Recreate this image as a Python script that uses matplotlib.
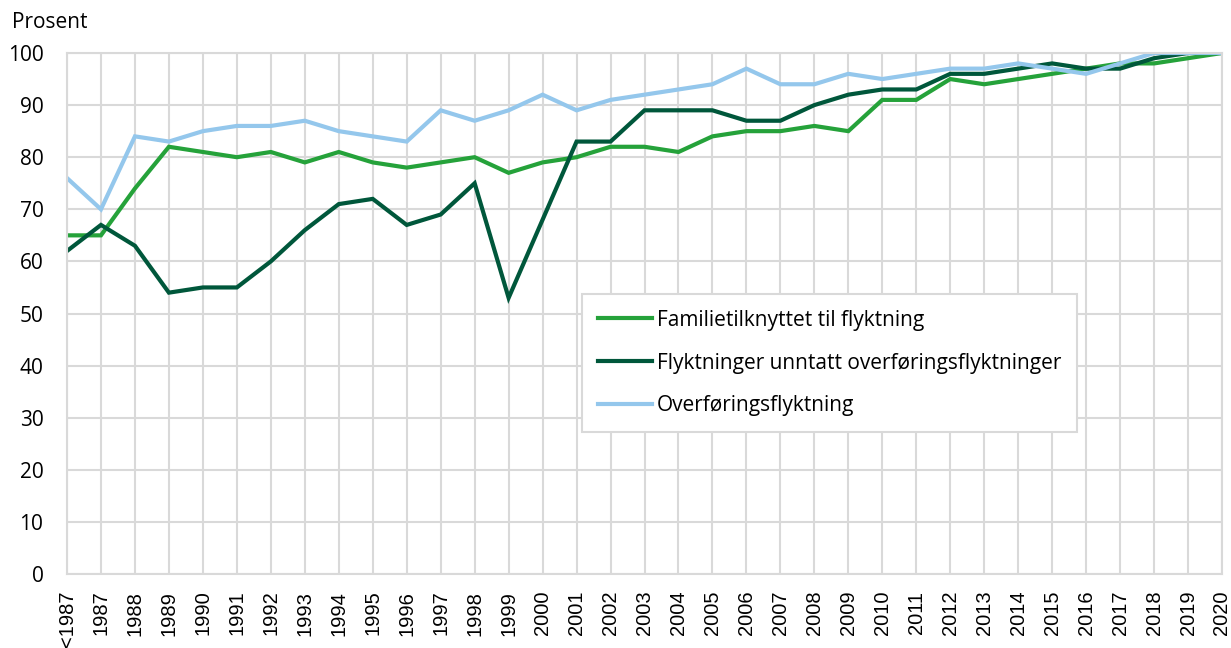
import matplotlib.pyplot as plt

# dataset
years = ['<1987'] + [str(y) for y in range(1987, 2021)]
familie = [65, 65, 74, 82, 81, 80, 81, 79, 81, 79, 78, 79, 80, 77, 79, 80, 82, 82,
           81, 84, 85, 85, 86, 85, 91, 91, 95, 94, 95, 96, 97, 98, 98, 99, 100]
flyktninger = [62, 67, 63, 54, 55, 55, 60, 66, 71, 72, 67, 69, 75, 53, 68, 83, 83, 89,
               89, 89, 87, 87, 90, 92, 93, 93, 96, 96, 97, 98, 97, 97, 99, 100, 100]
overforing = [76, 70, 84, 83, 85, 86, 86, 87, 85, 84, 83, 89, 87, 89, 92, 89, 91, 92,
              93, 94, 97, 94, 94, 96, 95, 96, 97, 97, 98, 97, 96, 98, 100, 100, 100]
pos = range(len(years))

fig = plt.figure(figsize=(12.31, 6.48), dpi=100)
ax = fig.add_axes([67 / 1231, 1 - 574 / 648, 1155 / 1231, 521 / 648])

ax.plot(pos, familie, color='#25a23a', lw=3, label='Familietilknyttet til flyktning',
        solid_joinstyle='miter')
ax.plot(pos, flyktninger, color='#00573b', lw=3,
        label='Flyktninger unntatt overføringsflyktninger', solid_joinstyle='miter')
ax.plot(pos, overforing, color='#94c7ec', lw=3, label='Overføringsflyktning',
        solid_joinstyle='miter')

ax.set_xlim(0, len(years) - 1)
ax.set_ylim(0, 100)
ax.set_xticks(list(pos))
ax.set_xticklabels(years, rotation=90, family='Liberation Sans', fontsize=14.5)
ax.set_yticks(range(0, 101, 10))
for t in ax.get_yticklabels():
    t.set_family('Open Sans')
    t.set_fontsize(15)
ax.tick_params(length=0)
ax.tick_params(axis='y', pad=17)
ax.tick_params(axis='x', pad=12)

ax.grid(True, color='#d9d9d9', lw=1.5)
ax.set_axisbelow(True)
for s in ax.spines.values():
    s.set_color('#d9d9d9')
    s.set_linewidth(1.5)

fig.text(12 / 1231, 1 - 22 / 648, 'Prosent', family='Open Sans', fontsize=15, va='center')

leg = ax.legend(loc='upper left', bbox_to_anchor=(515 / 1155, 280 / 521), borderaxespad=0,
                fancybox=False, framealpha=1, edgecolor='#d9d9d9', handlelength=2.6,
                handletextpad=0.25, labelspacing=1.05, borderpad=0.75,
                prop={'family': 'Open Sans', 'size': 15})
leg.get_frame().set_linewidth(1.5)

fig.savefig('out.png', dpi=100)
